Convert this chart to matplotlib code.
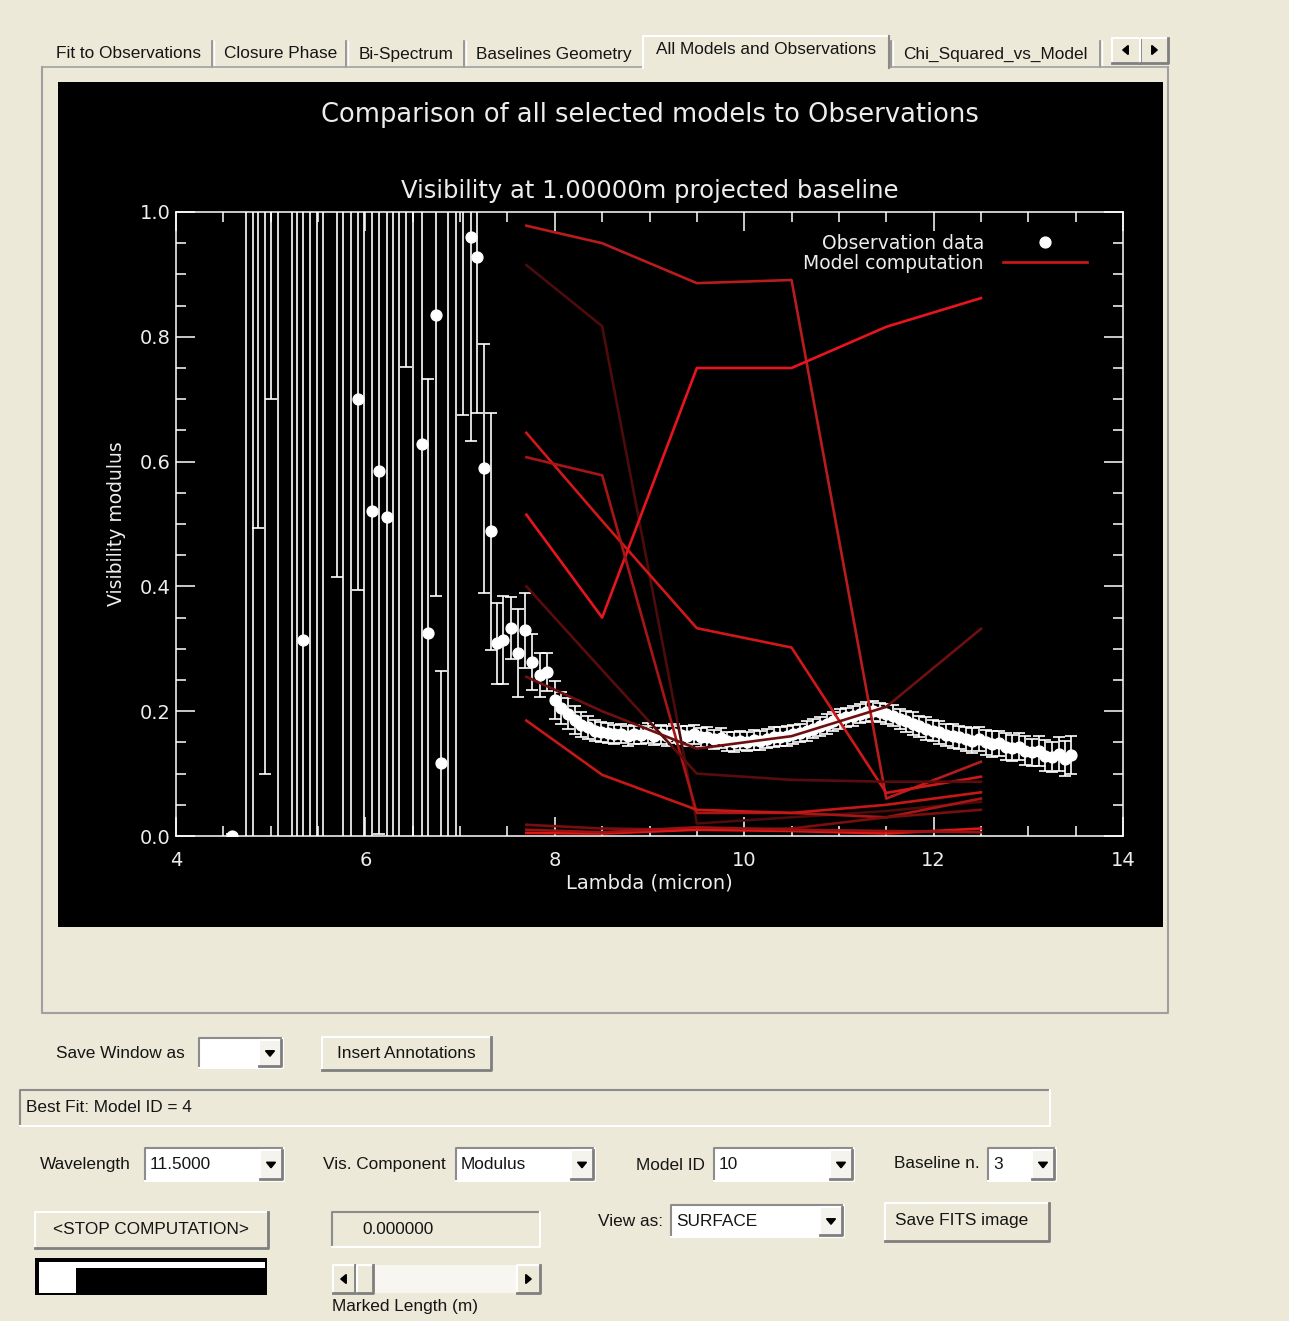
import matplotlib
matplotlib.use("Agg")
import matplotlib.pyplot as plt
from matplotlib import font_manager
from matplotlib.lines import Line2D
from matplotlib.patches import Polygon, Rectangle
from matplotlib.ticker import FormatStrFormatter, MultipleLocator

# observed visibility, short-wavelength part (inside the telluric water band)
lam_noisy = [4.59, 4.665, 4.739, 4.81, 4.866, 4.94, 5.008, 5.074, 5.146, 5.222,
             5.275, 5.344, 5.415, 5.486, 5.555, 5.626, 5.697, 5.767, 5.848, 5.919,
             5.988, 6.073, 6.147, 6.225, 6.288, 6.358, 6.425, 6.506, 6.594, 6.664,
             6.742, 6.80, 6.875, 6.954, 7.034, 7.115, 7.182, 7.256, 7.33, 7.39,
             7.45, 7.54, 7.61, 7.685, 7.76, 7.84, 7.92]
vis_noisy = [0.000, -0.62, 1.55, -0.35, 1.30, 1.30, 1.45, -0.45, 1.80, -0.45,
             1.25, 0.314, 1.60, -0.80, 1.15, -0.90, 1.35, -0.30, 1.70, 0.700,
             -0.55, 0.521, 0.585, 0.512, 1.40, -0.25, 1.30, -0.70, 0.629, 0.325,
             0.835, 0.117, 1.20, -0.40, 1.45, 0.960, 0.928, 0.589, 0.488, 0.309,
             0.314, 0.333, 0.293, 0.330, 0.279, 0.258, 0.263]
err_noisy = [0.004, 0.35, 1.90, 1.60, 0.806, 1.201, 0.75, 1.60, 0.40, 1.70,
             1.60, 0.85, 1.90, 2.00, 1.30, 0.50, 0.935, 1.45, 2.10, 0.306,
             1.65, 0.80, 0.582, 0.75, 1.55, 1.35, 0.548, 1.85, 0.72, 0.407,
             0.45, 0.148, 1.50, 1.80, 0.775, 0.327, 0.25, 0.20, 0.19, 0.065,
             0.07, 0.05, 0.07, 0.06, 0.045, 0.035, 0.03]

# observed visibility, N band
lam_band = [8.00, 8.07, 8.14, 8.21, 8.28, 8.35, 8.42, 8.49, 8.56, 8.63,
            8.70, 8.77, 8.84, 8.91, 8.98, 9.05, 9.12, 9.19, 9.26, 9.33,
            9.40, 9.47, 9.54, 9.61, 9.68, 9.75, 9.82, 9.89, 9.96, 10.03,
            10.10, 10.17, 10.24, 10.31, 10.38, 10.45, 10.52, 10.59, 10.66, 10.73,
            10.80, 10.87, 10.94, 11.01, 11.08, 11.15, 11.22, 11.29, 11.36, 11.43,
            11.50, 11.57, 11.64, 11.71, 11.78, 11.85, 11.92, 11.99, 12.06, 12.13,
            12.20, 12.27, 12.34, 12.41, 12.48, 12.55, 12.62, 12.69, 12.76, 12.83,
            12.90, 12.97, 13.04, 13.11, 13.18, 13.25, 13.32, 13.39, 13.45]
vis_band = [0.218, 0.205, 0.196, 0.186, 0.178, 0.174, 0.169, 0.167, 0.165, 0.163,
            0.164, 0.160, 0.163, 0.162, 0.165, 0.161, 0.163, 0.160, 0.164, 0.162,
            0.160, 0.163, 0.158, 0.159, 0.155, 0.157, 0.152, 0.150, 0.153, 0.151,
            0.154, 0.153, 0.156, 0.158, 0.159, 0.160, 0.163, 0.165, 0.168, 0.172,
            0.176, 0.180, 0.184, 0.187, 0.190, 0.193, 0.196, 0.199, 0.201, 0.198,
            0.196, 0.193, 0.188, 0.184, 0.180, 0.176, 0.172, 0.169, 0.166, 0.162,
            0.160, 0.158, 0.156, 0.153, 0.155, 0.150, 0.147, 0.149, 0.143, 0.141,
            0.143, 0.137, 0.134, 0.136, 0.129, 0.127, 0.131, 0.124, 0.130]
err_band = [0.030, 0.025, 0.025, 0.022, 0.020, 0.018, 0.017, 0.016, 0.016, 0.015,
            0.015, 0.016, 0.015, 0.015, 0.016, 0.015, 0.015, 0.016, 0.015, 0.015,
            0.016, 0.015, 0.015, 0.016, 0.015, 0.016, 0.015, 0.016, 0.015, 0.015,
            0.016, 0.015, 0.015, 0.016, 0.015, 0.016, 0.015, 0.015, 0.016, 0.015,
            0.015, 0.016, 0.015, 0.016, 0.015, 0.016, 0.015, 0.016, 0.016, 0.015,
            0.016, 0.017, 0.016, 0.017, 0.018, 0.017, 0.018, 0.017, 0.018, 0.018,
            0.019, 0.018, 0.019, 0.020, 0.019, 0.020, 0.021, 0.020, 0.022, 0.021,
            0.022, 0.023, 0.022, 0.024, 0.025, 0.024, 0.027, 0.028, 0.030]

# model visibilities, computed at six wavelengths only
lam_model = [7.7, 8.5, 9.5, 10.5, 11.5, 12.5]
model_01 = [0.978, 0.950, 0.886, 0.891, 0.060, 0.119]
model_02 = [0.915, 0.817, 0.020, 0.030, 0.040, 0.055]
model_03 = [0.515, 0.350, 0.750, 0.750, 0.816, 0.862]
model_04 = [0.646, 0.505, 0.333, 0.302, 0.069, 0.095]
model_05 = [0.607, 0.578, 0.037, 0.037, 0.030, 0.060]
model_06 = [0.400, 0.266, 0.100, 0.090, 0.087, 0.087]
model_07 = [0.255, 0.200, 0.140, 0.160, 0.207, 0.332]
model_08 = [0.185, 0.098, 0.042, 0.037, 0.050, 0.070]
model_09 = [0.018, 0.012, 0.010, 0.012, 0.030, 0.042]
model_10 = [0.005, 0.004, 0.010, 0.008, 0.004, 0.012]
model_11 = [0.010, 0.006, 0.014, 0.010, 0.008, 0.006]
models = [model_01, model_02, model_03, model_04, model_05, model_06,
          model_07, model_08, model_09, model_10, model_11]
model_colors = ["#b81c1c", "#4d0b0b", "#e8141e", "#d01818", "#a81515", "#5a0c0c",
                "#6e1010", "#c81717", "#7a0e0e", "#e01616", "#9a1212"]

W, H = 1289, 1321
BG = "#ECE9D8"

# widget font: narrow sans if we have it
_names = {f.name for f in font_manager.fontManager.ttflist}
if "Liberation Sans Narrow" in _names:
    GUI_FONT, GUI_SIZE = "Liberation Sans Narrow", 15
else:
    GUI_FONT, GUI_SIZE = "Liberation Sans", 12.4

fig = plt.figure(figsize=(W / 100, H / 100), dpi=100, facecolor=BG)

# ---- widget layer, pixel coordinates, y down ----
gui = fig.add_axes([0, 0, 1, 1], zorder=0)
gui.set_xlim(0, W)
gui.set_ylim(H, 0)
gui.axis("off")
gui.patch.set_alpha(0)


def rect(x0, y0, x1, y1, face, edge="none", lw=1.0, z=1):
    gui.add_patch(Rectangle((x0, y0), x1 - x0, y1 - y0, facecolor=face,
                            edgecolor=edge, lw=lw, zorder=z))


def raised(x0, y0, x1, y1, face=BG):
    rect(x0, y0, x1, y1, face)
    gui.plot([x0, x0, x1], [y1, y0, y0], color="white", lw=1.5, zorder=3)
    gui.plot([x0, x1, x1], [y1, y1, y0], color="#7f7f7f", lw=2.0, zorder=3)


def sunken(x0, y0, x1, y1, face):
    rect(x0, y0, x1, y1, face)
    gui.plot([x0, x0, x1], [y1, y0, y0], color="#8c8c8c", lw=1.5, zorder=3)
    gui.plot([x0, x1, x1], [y1, y1, y0], color="white", lw=1.5, zorder=3)


def arrow(cx, cy, d, s=4.5):
    if d == "down":
        pts = [(cx - s, cy - s / 2), (cx + s, cy - s / 2), (cx, cy + s / 2 + 1)]
    elif d == "left":
        pts = [(cx + s / 2, cy - s), (cx + s / 2, cy + s), (cx - s / 2 - 1, cy)]
    else:
        pts = [(cx - s / 2, cy - s), (cx - s / 2, cy + s), (cx + s / 2 + 1, cy)]
    gui.add_patch(Polygon(pts, closed=True, color="black", zorder=4))


def label(x, y, s, ha="left"):
    gui.text(x, y, s, ha=ha, va="center", fontsize=GUI_SIZE, family=GUI_FONT,
             color="#151515", zorder=5)


def combo(x0, y0, x1, y1, text):
    sunken(x0, y0, x1, y1, "white")
    raised(x1 - 24, y0 + 2, x1 - 2, y1 - 2, "#F4F3EE")
    arrow(x1 - 13, (y0 + y1) / 2, "down")
    label(x0 + 5, (y0 + y1) / 2, text)


# tab strip
tab_names = ["Fit to Observations", "Closure Phase", "Bi-Spectrum",
             "Baselines Geometry", "Chi_Squared_vs_Model"]
tab_centers = [128, 281, 406, 554, 995]
for name, cx in zip(tab_names, tab_centers):
    label(cx, 54, name, ha="center")
for sx in [212, 346, 464, 891, 1100]:
    gui.plot([sx, sx], [41, 67], color="#8a8a8a", lw=1.2, zorder=3)
    gui.plot([sx + 1.5, sx + 1.5], [41, 67], color="white", lw=1.0, zorder=3)
gui.plot([42, 643], [67, 67], color="#a0a0a0", lw=1.2, zorder=3)
gui.plot([889, 1168], [67, 67], color="#a0a0a0", lw=1.2, zorder=3)
rect(643, 36, 889, 68, BG, z=2)
gui.plot([643, 643, 889], [68, 36, 36], color="white", lw=1.5, zorder=3)
gui.plot([889, 889], [36, 68], color="#8a8a8a", lw=1.5, zorder=3)
label(766, 50, "All Models and Observations", ha="center")
raised(1112, 38, 1140, 63)
raised(1140, 38, 1168, 63)
arrow(1126, 50, "left")
arrow(1154, 50, "right")

# tab panel and the plot canvas
gui.plot([42, 42, 1168, 1168], [67, 1013, 1013, 67], color="#a0a0a0", lw=1.5, zorder=3)
rect(58, 82, 1163, 927, "black")

# controls under the panel
label(56, 1053, "Save Window as")
combo(199, 1038, 283, 1068, "")
raised(322, 1037, 491, 1070)
label(406, 1053, "Insert Annotations", ha="center")

sunken(20, 1090, 1050, 1126, BG)
label(26, 1107, "Best Fit: Model ID = 4")

label(40, 1165, "Wavelength")
combo(145, 1148, 284, 1181, "11.5000")
label(323, 1165, "Vis. Component")
combo(456, 1148, 595, 1181, "Modulus")
label(636, 1165, "Model ID")
combo(714, 1148, 854, 1181, "10")
label(894, 1163, "Baseline n.")
combo(988, 1148, 1056, 1181, "3")

raised(35, 1212, 268, 1248)
label(151, 1230, "<STOP COMPUTATION>", ha="center")
sunken(332, 1212, 540, 1247, BG)
label(362, 1229, "0.000000")
label(598, 1221, "View as:")
combo(671, 1205, 844, 1237, "SURFACE")
raised(885, 1203, 1049, 1241)
label(962, 1221, "Save FITS image", ha="center")

# progress bar
rect(35, 1258, 267, 1295, "black")
rect(39, 1262, 265, 1268, "white", z=2)
rect(39, 1262, 76, 1293, "white", z=2)

# marked length slider
rect(333, 1265, 540, 1293, "#F7F6F1")
raised(333, 1265, 355, 1293)
arrow(344, 1279, "left")
raised(357, 1265, 373, 1293)
raised(517, 1265, 540, 1293)
arrow(528, 1279, "right")
label(332, 1306, "Marked Length (m)")

# ---- the IDL plot ----
TXT = "#EDEDED"
gui.text(649.5, 115, "Comparison of all selected models to Observations",
         ha="center", va="center", color=TXT, fontsize=18.5, zorder=5)

ax = fig.add_axes([176 / W, (H - 836) / H, 947 / W, 624 / H], zorder=2)
ax.set_facecolor("black")

lam_obs = lam_noisy + lam_band
vis_obs = vis_noisy + vis_band
err_obs = err_noisy + err_band
ax.errorbar(lam_obs, vis_obs, yerr=err_obs, fmt="o", ms=7.8, color="white",
            ecolor="white", elinewidth=1.2, capsize=4.3, capthick=1.2, zorder=2)

for vals, c in zip(models, model_colors):
    ax.plot(lam_model, vals, color=c, lw=1.9, zorder=3)

ax.set_xlim(4, 14)
ax.set_ylim(0, 1)
ax.xaxis.set_major_locator(MultipleLocator(2))
ax.xaxis.set_minor_locator(MultipleLocator(0.5))
ax.yaxis.set_major_locator(MultipleLocator(0.2))
ax.yaxis.set_minor_locator(MultipleLocator(0.05))
ax.yaxis.set_major_formatter(FormatStrFormatter("%.1f"))
ax.tick_params(which="both", direction="in", top=True, right=True,
               color="white", labelcolor=TXT, width=1.1)
ax.tick_params(which="major", length=13.5)
ax.tick_params(which="minor", length=7)
ax.tick_params(axis="x", pad=11, labelsize=14)
ax.tick_params(axis="y", pad=4, labelsize=14)
for s in ax.spines.values():
    s.set_color("white")
    s.set_linewidth(1.1)

ax.set_title("Visibility at 1.00000m projected baseline", color=TXT,
             fontsize=17.5, pad=10)
ax.set_xlabel("Lambda (micron)", color=TXT, fontsize=14, labelpad=2)
ax.set_ylabel("Visibility modulus", color=TXT, fontsize=13.5, labelpad=10)

handles = [Line2D([], [], ls="none", marker="o", ms=7.8, color="white"),
           Line2D([], [], color="#d01818", lw=1.9)]
ax.legend(handles, ["Observation data", "Model computation"], loc="upper right",
          bbox_to_anchor=(0.962, 0.965), markerfirst=False, frameon=False,
          fontsize=13.5, labelcolor=TXT, handlelength=4.5, handletextpad=1.0,
          borderpad=0, borderaxespad=0, labelspacing=0.05)

fig.savefig("out.png", dpi=100, facecolor=BG)
